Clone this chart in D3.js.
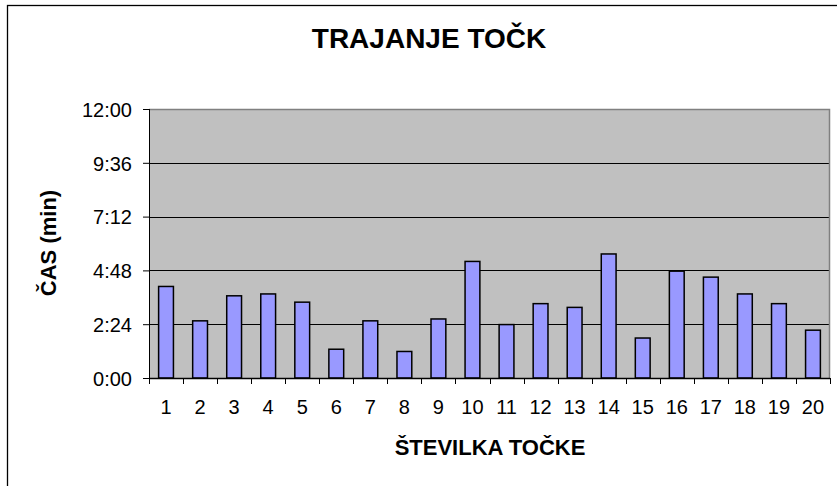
<!DOCTYPE html>
<html>
<head>
<meta charset="utf-8">
<script src="https://cdn.jsdelivr.net/npm/d3@7"></script>
<style>
  body { margin: 0; background: #fff; }
  svg { display: block; font-family: "Liberation Sans", Arial, sans-serif; }
</style>
</head>
<body>
<div id="chart"></div>
<script>
'use strict';

const tracks = d3.range(1, 21).map(String);
const durations = [
  "4:05", "2:33", "3:40", "3:45", "3:23", "1:17", "2:33", "1:11", "2:38", "5:12",
  "2:23", "3:19", "3:09", "5:32", "1:47", "4:46", "4:30", "3:45", "3:19", "2:08"
];
const yTicks = ["0:00", "2:24", "4:48", "7:12", "9:36", "12:00"];

const toSec = s => {
  const p = s.split(":");
  return (+p[0]) * 60 + (+p[1]);
};
const fmt = sec => `${Math.floor(sec / 60)}:${String(sec % 60).padStart(2, "0")}`;

const width = 837;
const height = 486;
const margin = { top: 109, right: 7, bottom: 108, left: 149 };

const svg = d3.select("#chart")
  .append("svg")
  .attr("width", width)
  .attr("height", height);

// outer chart border (cut off at right and bottom)
svg.append("rect")
  .attr("x", 7.5)
  .attr("y", 5.5)
  .attr("width", 900)
  .attr("height", 600)
  .attr("fill", "none")
  .attr("stroke", "#000")
  .attr("stroke-width", 1.3);

const x = d3.scaleBand()
  .domain(tracks)
  .range([margin.left, width - margin.right])
  .paddingInner(0.565)
  .paddingOuter(0.2825);

const y = d3.scaleLinear()
  .domain([0, toSec(yTicks[yTicks.length - 1])])
  .range([height - margin.bottom, margin.top]);

const x0 = margin.left;
const x1 = width - margin.right;
const y0 = y(0);
const y1 = y.range()[1];

// plot area
svg.append("rect")
  .attr("x", x0)
  .attr("y", y1)
  .attr("width", x1 - x0)
  .attr("height", y0 - y1)
  .attr("fill", "#c0c0c0");

// grid
svg.append("g")
  .selectAll("line")
  .data(yTicks.slice(1, -1).map(toSec))
  .enter()
  .append("line")
  .attr("x1", x0)
  .attr("x2", x1)
  .attr("y1", d => Math.round(y(d)) + 0.5)
  .attr("y2", d => Math.round(y(d)) + 0.5)
  .attr("stroke", "#000")
  .attr("stroke-width", 1);

// plot border top / right
svg.append("polyline")
  .attr("points", `${x0},${Math.round(y1) + 0.5} ${x1 - 0.5},${Math.round(y1) + 0.5} ${x1 - 0.5},${y0}`)
  .attr("fill", "none")
  .attr("stroke", "#808080")
  .attr("stroke-width", 1.5);

// bars
svg.append("g")
  .selectAll("rect")
  .data(durations)
  .enter()
  .append("rect")
  .attr("x", (d, i) => x(tracks[i]))
  .attr("y", d => y(toSec(d)))
  .attr("width", x.bandwidth())
  .attr("height", d => y0 - y(toSec(d)))
  .attr("fill", "#9999ff")
  .attr("stroke", "#000")
  .attr("stroke-width", 1.5);

// y axis
const yAxis = d3.axisLeft(y)
  .tickValues(yTicks.map(toSec))
  .tickFormat(fmt)
  .tickSize(6)
  .tickPadding(11);

svg.append("g")
  .attr("transform", `translate(${x0}, 0)`)
  .call(yAxis)
  .call(g => g.select(".domain").attr("stroke", "#000").attr("d", `M0.5,${y1}V${y0}`))
  .call(g => g.selectAll(".tick line").attr("stroke", "#000"))
  .call(g => g.selectAll(".tick text")
    .attr("fill", "#000")
    .style("font-size", "20px")
    .attr("dy", "0.36em"));

// x axis: ticks on category boundaries
const bounds = tracks.map(t => x(t) - x.step() * x.paddingInner() / 2).concat(x1 - 0.5);
svg.append("line")
  .attr("x1", x0)
  .attr("x2", x1)
  .attr("y1", y0 + 0.5)
  .attr("y2", y0 + 0.5)
  .attr("stroke", "#000")
  .attr("stroke-width", 1.3);

svg.append("g")
  .selectAll("line")
  .data(bounds)
  .enter()
  .append("line")
  .attr("x1", d => Math.round(d) + 0.5)
  .attr("x2", d => Math.round(d) + 0.5)
  .attr("y1", y0)
  .attr("y2", y0 + 6)
  .attr("stroke", "#000");

svg.append("g")
  .selectAll("text")
  .data(tracks)
  .enter()
  .append("text")
  .attr("x", d => x(d) + x.bandwidth() / 2)
  .attr("y", 414)
  .attr("text-anchor", "middle")
  .style("font-size", "20px")
  .text(d => d);

// titles
svg.append("text")
  .attr("x", 429)
  .attr("y", 48)
  .attr("text-anchor", "middle")
  .style("font-size", "28px")
  .style("font-weight", "bold")
  .text("TRAJANJE TOČK");

svg.append("text")
  .attr("x", 490)
  .attr("y", 455)
  .attr("text-anchor", "middle")
  .style("font-size", "22px")
  .style("font-weight", "bold")
  .text("ŠTEVILKA TOČKE");

svg.append("text")
  .attr("transform", "translate(56, 243) rotate(-90)")
  .attr("text-anchor", "middle")
  .style("font-size", "22px")
  .style("font-weight", "bold")
  .text("ČAS (min)");
</script>
</body>
</html>
